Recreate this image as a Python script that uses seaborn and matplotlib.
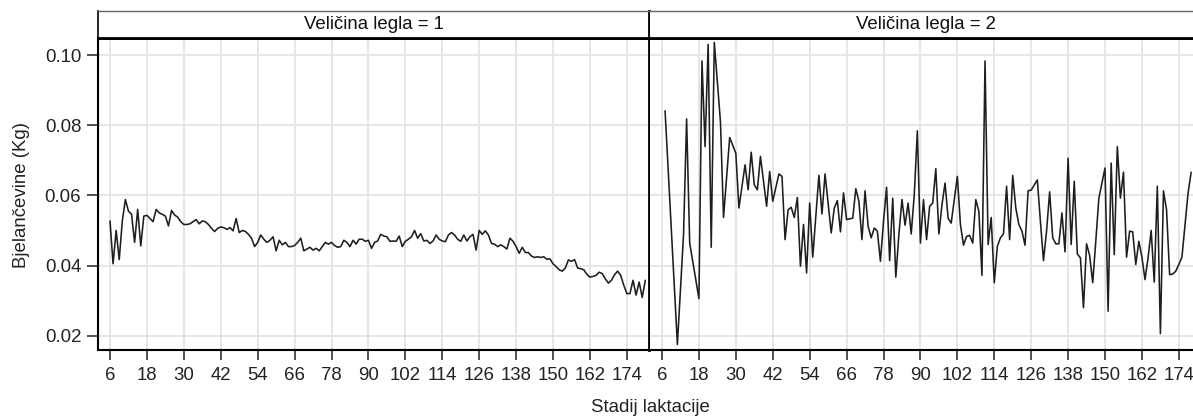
import matplotlib
matplotlib.use("Agg")
import matplotlib.pyplot as plt
import pandas as pd
import seaborn as sns

# ---------------- data ----------------
dani_1 = list(range(6, 181))
bjel_1 = [
    0.0527, 0.0405, 0.0500, 0.0417, 0.0527, 0.0588, 0.0555, 0.0546, 0.0466, 0.0560,
    0.0456, 0.0541, 0.0543, 0.0534, 0.0525, 0.0560, 0.0550, 0.0546, 0.0541, 0.0513,
    0.0557, 0.0544, 0.0538, 0.0525, 0.0517, 0.0517, 0.0519, 0.0525, 0.0531, 0.0519,
    0.0527, 0.0525, 0.0517, 0.0506, 0.0497, 0.0506, 0.0510, 0.0508, 0.0503, 0.0508,
    0.0499, 0.0534, 0.0494, 0.0500, 0.0497, 0.0489, 0.0478, 0.0454, 0.0466, 0.0487,
    0.0475, 0.0466, 0.0472, 0.0482, 0.0442, 0.0472, 0.0459, 0.0466, 0.0454, 0.0454,
    0.0457, 0.0466, 0.0478, 0.0442, 0.0447, 0.0452, 0.0444, 0.0449, 0.0442, 0.0454,
    0.0466, 0.0461, 0.0466, 0.0457, 0.0452, 0.0454, 0.0472, 0.0466, 0.0454, 0.0472,
    0.0461, 0.0475, 0.0475, 0.0469, 0.0472, 0.0449, 0.0466, 0.0470, 0.0489, 0.0484,
    0.0482, 0.0469, 0.0470, 0.0469, 0.0484, 0.0454, 0.0469, 0.0475, 0.0482, 0.0500,
    0.0478, 0.0491, 0.0470, 0.0472, 0.0463, 0.0470, 0.0487, 0.0475, 0.0470, 0.0468,
    0.0487, 0.0494, 0.0487, 0.0475, 0.0469, 0.0487, 0.0470, 0.0482, 0.0489, 0.0444,
    0.0500, 0.0489, 0.0499, 0.0487, 0.0463, 0.0461, 0.0454, 0.0459, 0.0454, 0.0447,
    0.0478, 0.0469, 0.0454, 0.0435, 0.0452, 0.0437, 0.0437, 0.0427, 0.0423, 0.0425,
    0.0423, 0.0425, 0.0418, 0.0419, 0.0405, 0.0397, 0.0388, 0.0384, 0.0393, 0.0416,
    0.0412, 0.0417, 0.0393, 0.0391, 0.0388, 0.0375, 0.0367, 0.0369, 0.0372, 0.0381,
    0.0377, 0.0362, 0.0350, 0.0358, 0.0374, 0.0384, 0.0372, 0.0344, 0.0320, 0.0320,
    0.0358, 0.0316, 0.0353, 0.0309, 0.0358,
]

dani_2 = [
    7, 11, 13, 14, 15, 18, 19, 20, 21, 22, 23, 25, 26, 28, 30, 31, 33, 34, 35, 36,
    37, 38, 40, 41, 42, 44, 45, 46, 47, 48, 49, 50, 51, 52, 53, 54, 55, 57, 58, 59,
    61, 62, 63, 64, 65, 66, 68, 69, 70, 71, 72, 73, 74, 75, 76, 77, 78, 79, 80, 81,
    82, 83, 84, 85, 86, 87, 88, 89, 90, 91, 92, 93, 94, 95, 96, 97, 98, 99, 100, 102,
    103, 104, 105, 106, 107, 108, 109, 110, 111, 112, 113, 114, 115, 116, 117, 118, 119, 120, 121, 122,
    123, 124, 125, 126, 128, 129, 130, 131, 132, 133, 134, 135, 136, 137, 138, 139, 140, 141, 142, 143,
    144, 145, 146, 147, 148, 150, 151, 152, 153, 154, 155, 156, 157, 158, 159, 160, 161, 162, 163, 164,
    165, 166, 167, 168, 169, 170, 171, 172, 173, 174, 175, 177, 178,
]
bjel_2 = [
    0.0841, 0.0175, 0.0488, 0.0818, 0.0464, 0.0306, 0.0983, 0.0739, 0.1030, 0.0452,
    0.1036, 0.0810, 0.0537, 0.0765, 0.0720, 0.0564, 0.0687, 0.0616, 0.0723, 0.0630,
    0.0616, 0.0711, 0.0569, 0.0668, 0.0583, 0.0661, 0.0654, 0.0474, 0.0559, 0.0566,
    0.0537, 0.0594, 0.0398, 0.0517, 0.0379, 0.0578, 0.0424, 0.0657, 0.0547, 0.0661,
    0.0493, 0.0564, 0.0585, 0.0496, 0.0607, 0.0531, 0.0535, 0.0619, 0.0583, 0.0474,
    0.0613, 0.0512, 0.0479, 0.0507, 0.0498, 0.0412, 0.0526, 0.0623, 0.0414, 0.0592,
    0.0367, 0.0488, 0.0588, 0.0515, 0.0578, 0.0490, 0.0602, 0.0784, 0.0464, 0.0588,
    0.0474, 0.0569, 0.0578, 0.0676, 0.0490, 0.0573, 0.0635, 0.0535, 0.0521, 0.0654,
    0.0517, 0.0458, 0.0483, 0.0486, 0.0464, 0.0588, 0.0554, 0.0372, 0.0983, 0.0460,
    0.0537, 0.0351, 0.0455, 0.0479, 0.0490, 0.0626, 0.0474, 0.0657, 0.0564, 0.0517,
    0.0498, 0.0458, 0.0613, 0.0615, 0.0644, 0.0526, 0.0414, 0.0498, 0.0610, 0.0479,
    0.0462, 0.0462, 0.0550, 0.0439, 0.0706, 0.0460, 0.0640, 0.0433, 0.0422, 0.0280,
    0.0462, 0.0429, 0.0351, 0.0469, 0.0592, 0.0678, 0.0270, 0.0692, 0.0431, 0.0739,
    0.0592, 0.0666, 0.0424, 0.0498, 0.0496, 0.0403, 0.0469, 0.0424, 0.0360, 0.0422,
    0.0500, 0.0353, 0.0626, 0.0206, 0.0613, 0.0559, 0.0374, 0.0376, 0.0384, 0.0403,
    0.0424, 0.0607, 0.0666,
]

panel_labels = ["Veličina legla = 1", "Veličina legla = 2"]
x_ticks = list(range(6, 175, 12))
y_ticks = [0.02, 0.04, 0.06, 0.08, 0.10]
x_label = "Stadij laktacije"
y_label = "Bjelančevine (Kg)"

# ---------------- style ----------------
sns.set_style("white")
plt.rcParams["font.family"] = ["Liberation Sans", "DejaVu Sans"]
FS = 13.4

W, H = 1193, 416
fig = plt.figure(figsize=(W / 100, H / 100), dpi=100)

def fx(px):
    return px / W

def fy(py):
    return 1 - py / H

ax_left_px = [98, 650]
ax_w_px = 551
top_px, bot_px = 37.5, 350
strip_top_px = 10.7

xlim = (2.1, 181.2)
ylim = (0.01593, 0.10499)

frames = [
    pd.DataFrame({"dan": dani_1, "bjel": bjel_1}),
    pd.DataFrame({"dan": dani_2, "bjel": bjel_2}),
]

for i, (lx, df) in enumerate(zip(ax_left_px, frames)):
    ax = fig.add_axes([fx(lx), fy(bot_px), fx(ax_w_px), (bot_px - top_px) / H])
    sns.lineplot(data=df, x="dan", y="bjel", ax=ax, color="#1e1e1e",
                 linewidth=1.15, estimator=None, sort=True)
    ax.set_xlim(*xlim)
    ax.set_ylim(*ylim)
    ax.set_xticks(x_ticks)
    ax.set_xticklabels([str(t) for t in x_ticks], fontsize=FS, color="#222222")
    ax.set_yticks(y_ticks)
    ax.grid(True, color="#e4e4e4", linewidth=1.3)
    ax.set_axisbelow(True)
    ax.set_xlabel("")
    ax.set_ylabel("")
    ax.tick_params(axis="x", length=7, width=1.1, color="#222222",
                   direction="out", pad=5, bottom=True)
    for s in ax.spines.values():
        s.set_color("black")
    ax.spines["bottom"].set_linewidth(1.5)
    ax.spines["top"].set_linewidth(2.0)
    if i == 0:
        ax.spines["left"].set_linewidth(1.5)
        ax.spines["right"].set_linewidth(2.0)
        ax.set_yticklabels([f"{t:.2f}" for t in y_ticks], fontsize=FS, color="#222222")
        ax.tick_params(axis="y", length=8, width=1.1, color="#222222",
                       direction="out", pad=4, left=True)
    else:
        ax.spines["left"].set_visible(False)
        ax.spines["right"].set_visible(False)
        ax.tick_params(axis="y", left=False, labelleft=False)

    # header strip
    sx = fig.add_axes([fx(lx), fy(top_px), fx(ax_w_px), (top_px - strip_top_px) / H])
    sx.set_xticks([])
    sx.set_yticks([])
    sx.set_facecolor("white")
    sx.spines["top"].set_color("#666666")
    sx.spines["top"].set_linewidth(1.0)
    sx.spines["bottom"].set_color("black")
    sx.spines["bottom"].set_linewidth(2.0)
    sx.spines["left"].set_color("black")
    sx.spines["right"].set_color("black")
    if i == 0:
        sx.spines["left"].set_linewidth(1.2)
        sx.spines["right"].set_linewidth(2.0)
    else:
        sx.spines["left"].set_visible(False)
        sx.spines["right"].set_visible(False)
    sx.text(0.5, 0.5, panel_labels[i], transform=sx.transAxes, ha="center",
            va="center", fontsize=FS, color="#111111")

fig.text(fx(650), fy(407), x_label, ha="center", va="center", fontsize=FS, color="#222222")
fig.text(fx(22), fy(195), y_label, ha="center", va="center", rotation=90,
         fontsize=FS, color="#222222")

fig.savefig("out.png", dpi=100)
